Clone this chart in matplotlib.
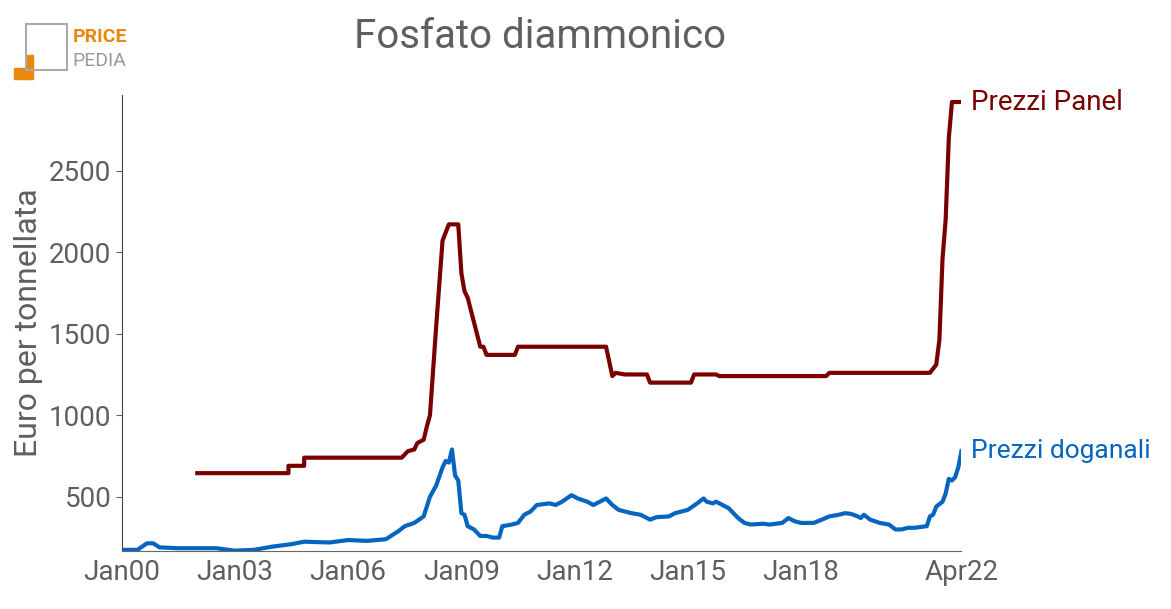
import matplotlib.pyplot as plt
from matplotlib.patches import Rectangle

plt.rcParams['font.family'] = ['Roboto', 'DejaVu Sans']

# months since Jan 2000
panel_m = [24, 53, 53, 58, 58, 89, 91, 93, 94, 96, 97, 98, 100, 102, 104, 107, 108, 109, 110, 114, 115,
           116, 125, 126, 154, 156, 157, 160, 167, 168, 181, 182, 189, 190, 224, 225, 257, 259, 260, 261,
           262, 263, 264, 267]
panel_v = [645, 645, 690, 690, 740, 740, 780, 790, 830, 850, 930, 1000, 1550, 2070, 2170, 2170, 1870, 1760,
           1720, 1420, 1420, 1370, 1370, 1420, 1420, 1240, 1260, 1250, 1250, 1200, 1200, 1250, 1250, 1240,
           1240, 1260, 1260, 1310, 1460, 1960, 2200, 2700, 2920, 2920]

dog_m = [0, 5, 8, 10, 12, 18, 24, 30, 36, 42, 48, 54, 58, 66, 72, 78, 84, 88, 90, 93, 96, 98, 100, 102,
         103, 104, 105, 106, 107, 108, 109, 110, 112, 114, 116, 118, 120, 121, 124, 126, 128, 130, 132,
         136, 138, 140, 143, 145, 148, 150, 154, 156, 158, 160, 162, 165, 168, 170, 174, 176, 178, 180,
         183, 185, 186, 188, 189, 191, 193, 196, 198, 200, 204, 206, 210, 212, 214, 216, 220, 222, 225,
         228, 230, 232, 234, 235, 236, 238, 241, 244, 246, 248, 250, 252, 254, 256, 257, 258, 259, 261,
         262, 263, 264, 265, 266, 267]
dog_v = [175, 175, 215, 215, 190, 185, 185, 185, 170, 175, 195, 210, 225, 220, 235, 230, 240, 290, 320,
         340, 380, 500, 570, 680, 720, 710, 790, 630, 600, 400, 390, 320, 300, 260, 260, 250, 250, 320,
         330, 340, 390, 410, 450, 460, 450, 470, 510, 490, 470, 450, 490, 450, 420, 410, 400, 390, 360,
         375, 380, 400, 410, 420, 460, 490, 470, 460, 470, 450, 430, 370, 340, 330, 335, 330, 340, 370,
         350, 340, 340, 355, 380, 390, 400, 395, 380, 370, 390, 360, 340, 330, 300, 300, 310, 310, 315,
         320, 380, 390, 440, 470, 520, 610, 600, 620, 680, 780]

tick_m = [0, 36, 72, 108, 144, 180, 216, 267]
tick_l = ['Jan00', 'Jan03', 'Jan06', 'Jan09', 'Jan12', 'Jan15', 'Jan18', 'Apr22']

red = '#7a0000'
blue = '#0565c0'
grey = '#5f5f5f'

fig = plt.figure(figsize=(11.71, 6.09), dpi=100)
ax = fig.add_axes([0.104, 0.095, 0.717, 0.749])
ax.plot(panel_m, panel_v, color=red, lw=3)
ax.plot(dog_m, dog_v, color=blue, lw=3)
ax.set_xlim(0, 267)
ax.set_ylim(167, 2963)
ax.set_xticks(tick_m, tick_l)
ax.set_yticks([500, 1000, 1500, 2000, 2500])
ax.tick_params(labelsize=20, colors=grey, length=4)
ax.tick_params(axis='x', length=0, pad=6)
for s in ['top', 'right']:
    ax.spines[s].set_visible(False)
ax.spines['left'].set_color('#444444')
ax.spines['bottom'].set_color('#666666')
ax.set_ylabel('Euro per tonnellata', fontsize=23, color=grey)
ax.text(270, 2920, 'Prezzi Panel', color=red, fontsize=20, va='center')
ax.text(270, 780, 'Prezzi doganali', color=blue, fontsize=19, va='center')

fig.text(0.461, 0.94, 'Fosfato diammonico', fontsize=29, color=grey, ha='center', va='center')
# logo
fig.patches.append(Rectangle((0.012, 0.87), 0.012, 0.018, transform=fig.transFigure, color='#e8890c'))
fig.patches.append(Rectangle((0.022, 0.87), 0.006, 0.04, transform=fig.transFigure, color='#e8890c'))
fig.patches.append(Rectangle((0.022, 0.885), 0.035, 0.075, transform=fig.transFigure, fill=False,
                             edgecolor='#aaaaaa', lw=1.5))
fig.text(0.062, 0.94, 'PRICE', fontsize=14, color='#e8890c', weight='bold', va='center')
fig.text(0.062, 0.9, 'PEDIA', fontsize=14, color='#999999', va='center')

fig.savefig('out.png')
